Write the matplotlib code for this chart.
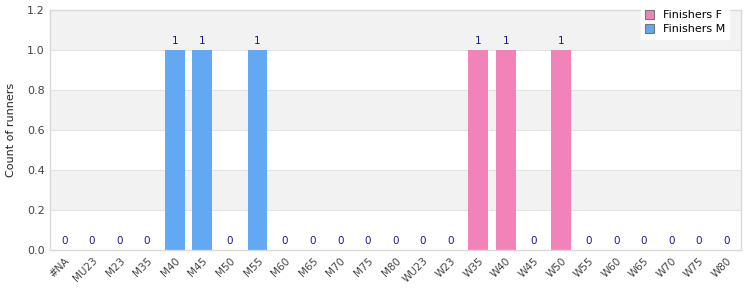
import matplotlib
matplotlib.use('Agg')
import matplotlib.pyplot as plt
import numpy as np

# age categories and counts
categories = ['#NA', 'MU23', 'M23', 'M35', 'M40', 'M45', 'M50', 'M55', 'M60',
              'M65', 'M70', 'M75', 'M80', 'WU23', 'W23', 'W35', 'W40', 'W45',
              'W50', 'W55', 'W60', 'W65', 'W70', 'W75', 'W80']
finishers_f = [0, 0, 0, 0, 0, 0, 0, 0, 0, 0, 0, 0, 0, 0, 0, 1, 1, 0, 1, 0, 0, 0, 0, 0, 0]
finishers_m = [0, 0, 0, 0, 1, 1, 0, 1, 0, 0, 0, 0, 0, 0, 0, 0, 0, 0, 0, 0, 0, 0, 0, 0, 0]
y_ticks = [0.0, 0.2, 0.4, 0.6, 0.8, 1.0, 1.2]

col_f = '#f283b8'
col_m = '#62a8f2'
txt_col = '#444444'
ann_col = '#1a1a8c'

fig = plt.figure(figsize=(7.5, 3), dpi=100)
ax = fig.add_axes([50.5 / 750, 50 / 300, 690 / 750, 240 / 300])

# alternating background bands
for i in range(1, len(y_ticks) - 1, 2):
    ax.axhspan(y_ticks[i], y_ticks[i + 1], color='#f2f2f2', zorder=0, lw=0)
for t in y_ticks[1:-1]:
    ax.axhline(t, color='#e2e2e2', lw=0.8, zorder=0.5)

x = np.arange(len(categories))
f = np.array(finishers_f)
m = np.array(finishers_m)
ax.bar(x, f, width=0.72, color=col_f, label='Finishers F', zorder=2)
ax.bar(x, m, width=0.72, bottom=f, color=col_m, label='Finishers M', zorder=2)

total = f + m
for xi, v in zip(x, total):
    ax.annotate(str(v), (xi, v), xytext=(0, 6.5), textcoords='offset points',
                ha='center', va='center', fontsize=7.5, color=ann_col, zorder=3)

ax.set_xlim(-0.5, len(categories) - 0.5)
ax.set_ylim(0, 1.2)
ax.set_yticks(y_ticks)
ax.set_yticklabels([f'{t:.1f}' for t in y_ticks], fontsize=8, color=txt_col)
ax.set_xticks(x)
ax.set_xticklabels(categories, rotation=45, ha='right', rotation_mode='anchor',
                   fontsize=7.5, color=txt_col)
ax.tick_params(axis='both', length=0, pad=4)
ax.set_ylabel('Count of runners', fontsize=8, color='#222222', labelpad=8)

for s in ax.spines.values():
    s.set_color('#d9d9d9')
    s.set_linewidth(1)

leg = fig.legend(loc='upper right', bbox_to_anchor=(735 / 750, 1.0), fontsize=8,
                 frameon=True, fancybox=False, framealpha=1, edgecolor='white',
                 handlelength=0.8, handleheight=0.8, borderpad=0.4,
                 labelspacing=0.35, handletextpad=0.8)
for h in leg.legend_handles:
    h.set_edgecolor('#777777')
    h.set_linewidth(0.8)
leg.set_zorder(5)

plt.savefig('out.png')
plt.close()
